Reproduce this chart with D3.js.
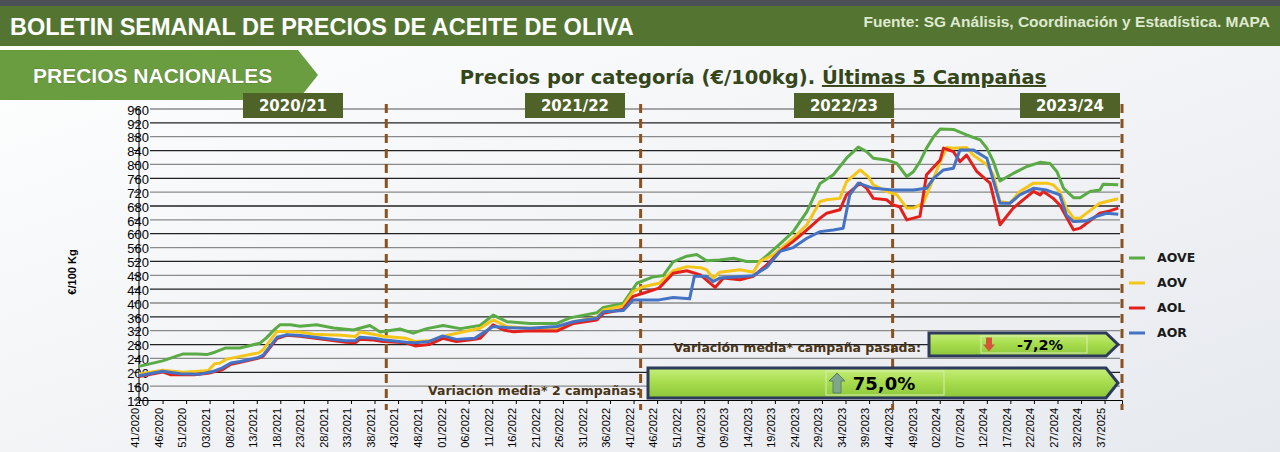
<!DOCTYPE html>
<html><head><meta charset="utf-8">
<script src="https://cdn.jsdelivr.net/npm/d3@7"></script>
<style>body{margin:0;background:#fff;font-family:"Liberation Sans",Arial,sans-serif}</style>
</head><body><svg id="c" width="1280" height="452"></svg>
<script>
const weekLabels=["41/2020","46/2020","51/2020","03/2021","08/2021","13/2021","18/2021","23/2021","28/2021","33/2021","38/2021","43/2021","48/2021","01/2022","06/2022","11/2022","16/2022","21/2022","26/2022","31/2022","36/2022","41/2022","46/2022","51/2022","04/2023","09/2023","14/2023","19/2023","24/2023","29/2023","34/2023","39/2023","44/2023","49/2023","02/2024","07/2024","12/2024","17/2024","22/2024","27/2024","32/2024","37/2025"];
const yTicks=d3.range(120,961,40);
const campaigns=["2020/21","2021/22","2022/23","2023/24"];
const campaignBreaks=[52.5,106.5,160,208.7];
const seriesNames=["AOVE","AOV","AOL","AOR"];
// [week index, €/100kg]
const aove=[[0,217],[5,233],[9.4,253],[12.2,253],[14.4,251],[16.1,258],[18.3,270],[21.4,270],[25.7,284],[27.1,300],[28.5,320],[29.9,337],[32.1,337],[34.2,333],[37.7,337],[41.3,328],[45.5,322],[49,335],[51.2,316],[55.4,325],[58.2,313],[61.1,326],[64.6,335],[68.2,326],[72.4,335],[75.2,365],[78.1,346],[83,341],[88.7,341],[91.5,357],[97.2,372],[98.6,387],[102.8,399],[105.7,457],[109,475],[111.3,479],[113.4,519],[116.3,535],[118.4,540],[120.5,522],[123.3,524],[126.2,529],[129,520],[131.8,520],[133.3,537],[136.1,571],[138.9,606],[141.8,664],[144.6,745],[147.4,770],[150.2,818],[152.7,850],[154.5,837],[155.9,818],[158.7,813],[160.9,803],[163,765],[164.4,779],[165.8,808],[167.2,847],[168.7,880],[170.1,902],[172.9,901],[175.7,885],[178.6,871],[180,847],[181.4,808],[182.8,752],[185.6,774],[188.5,794],[191.3,806],[193.4,803],[194.9,779],[196.3,731],[198.4,704],[199.8,704],[201.9,722],[204,726],[204.7,743],[207.9,741]];
const aov=[[0,195],[5,206],[9.4,200],[12.7,203],[14.7,205],[16.1,225],[17.1,226],[18.6,238],[21.5,246],[25.4,256],[26.4,266],[29.3,318],[31.3,318],[34.2,316],[37.1,310],[43,307],[45.9,303],[46.9,316],[49.8,310],[51.8,304],[56.7,298],[58.6,289],[62.5,292],[65.5,307],[72.4,327],[75.2,351],[78.1,332],[83,327],[88.7,327],[92.2,346],[97.2,358],[98.6,380],[102.8,392],[104.9,433],[107,447],[110.4,457],[113.4,493],[116.3,505],[119.2,502],[120.5,496],[121.9,472],[123.3,489],[127.6,496],[130.4,489],[131.8,520],[134.7,539],[138.9,587],[141.8,626],[144.6,693],[146,698],[148.8,702],[150.2,750],[153.1,784],[154.8,765],[155.9,741],[158.7,722],[160.9,712],[163,674],[164.4,674],[166.5,688],[168.7,760],[170.1,808],[171.5,849],[172.9,847],[175.7,849],[177.1,827],[180,799],[181.4,770],[182.8,693],[184.9,688],[187,722],[189.9,746],[192.7,746],[194.1,741],[195.5,722],[196.9,674],[198.4,645],[199.8,645],[202.6,674],[204,688],[206.1,695],[207.9,701]];
const aol=[[0,188],[5,201],[6.8,193],[11.7,193],[14.7,197],[17.6,207],[19.5,223],[21.5,229],[25.4,241],[26.4,247],[29.3,297],[31.3,307],[34.2,304],[39.1,295],[43.9,287],[45.9,285],[46.9,295],[49.8,293],[51.8,289],[56.7,285],[58.6,276],[61.6,280],[64.5,298],[67.4,289],[71.3,295],[72.4,298],[75.2,337],[77.4,322],[79.5,317],[83,320],[88.7,319],[92.2,341],[97.2,351],[98.6,370],[102.8,382],[104.9,419],[107,428],[110.4,443],[113.4,486],[116.3,493],[119.2,481],[122.3,445],[124.1,472],[127.6,467],[130.4,477],[133.3,510],[136.1,549],[138.9,578],[141.8,611],[144.6,645],[146,659],[148.8,669],[150.2,712],[153.1,746],[154.5,731],[155.9,702],[158.7,698],[160.1,683],[161.5,678],[163,640],[165.8,650],[167.2,770],[170.1,813],[170.8,847],[172.9,837],[174.3,808],[175.7,827],[177.9,779],[180.7,746],[182.8,626],[185.6,674],[189.9,722],[191.3,712],[192,722],[194.1,702],[195.5,683],[198.4,611],[199.8,616],[201.2,630],[204,659],[206.1,666],[207.9,674]];
const aor=[[0,190],[5,203],[8.8,196],[12.7,194],[15.6,202],[17.6,212],[19.5,227],[21.5,231],[25.4,243],[26.4,250],[29.3,301],[31.3,308],[34.2,306],[39.1,298],[43.9,291],[45.9,291],[46.9,301],[49.8,298],[51.8,294],[56.7,287],[58.6,285],[61.6,289],[64.5,305],[67.4,295],[71.3,298],[72.4,308],[75.2,332],[78.1,329],[83,327],[88.7,332],[92.2,346],[97.2,356],[98.6,375],[102.8,378],[104.9,409],[107,409],[110.4,409],[113.4,416],[116.9,412],[117.9,477],[120.5,477],[121.9,462],[123.3,472],[130.4,479],[133.3,503],[136.1,549],[138.9,560],[141.8,587],[144.6,606],[147.4,611],[149.5,616],[150.9,712],[152.7,746],[155.9,731],[160.1,726],[164.4,726],[167.2,731],[168.7,760],[170.8,784],[172.9,789],[174.3,842],[177.1,842],[180,818],[182.8,688],[184.9,688],[187,712],[189.9,731],[192.7,726],[195.5,712],[196.9,654],[198.4,635],[201.2,637],[203.3,650],[205.4,659],[207.9,656]];
const seriesData=[aove,aov,aol,aor];
const colors=["#5aab46","#f5c518","#e3201b","#4472c4"];
const varLast="-7,2%", var2="75,0%";
const DV="DejaVu Sans, Verdana, sans-serif";

const svg=d3.select("#c");
const defs=svg.append("defs");
const bg=defs.append("linearGradient").attr("id","bg").attr("x1",0).attr("x2",1).attr("y1",0).attr("y2",1);
bg.append("stop").attr("offset","0").attr("stop-color","#ffffff");
bg.append("stop").attr("offset","1").attr("stop-color","#e6e9ee");
const gg=defs.append("linearGradient").attr("id","gb").attr("x1",0).attr("x2",0).attr("y1",0).attr("y2",1);
gg.append("stop").attr("offset","0").attr("stop-color","#c6ee7a");
gg.append("stop").attr("offset","0.5").attr("stop-color","#a6dc4c");
gg.append("stop").attr("offset","1").attr("stop-color","#8cc63a");
svg.append("rect").attr("width",1280).attr("height",452).attr("fill","url(#bg)");
// header
svg.append("rect").attr("width",1280).attr("height",6).attr("fill","#4d5157");
svg.append("rect").attr("y",6).attr("width",1280).attr("height",40).attr("fill","#547532");
svg.append("text").attr("x",10).attr("y",35).attr("fill","#fff").attr("font-size",23.5).attr("font-weight","bold").text("BOLETIN SEMANAL DE PRECIOS DE ACEITE DE OLIVA");
svg.append("text").attr("x",1270).attr("y",27).attr("text-anchor","end").attr("fill","#dfe9cf").attr("font-size",15.5).attr("font-weight","bold").text("Fuente: SG Análisis, Coordinación y Estadística. MAPA");
svg.append("path").attr("d","M0,50H298L318,75L298,100H0Z").attr("fill","#6a9c40");
svg.append("text").attr("x",33).attr("y",83).attr("fill","#fff").attr("font-size",21).attr("font-weight","bold").style("paint-order","stroke").attr("stroke","#4a6a2a").attr("stroke-width",0.6).text("PRECIOS NACIONALES");
const t=svg.append("text").attr("x",753).attr("y",84).attr("text-anchor","middle").attr("fill","#34461a").attr("font-size",19.5).attr("font-weight","bold").attr("font-family",DV);
t.append("tspan").text("Precios por categoría (€/100kg). ");
t.append("tspan").attr("text-decoration","underline").text("Últimas 5 Campañas");

const x=d3.scaleLinear().domain([0,208.7]).range([139,1122]);
const y=d3.scaleLinear().domain([120,960]).range([400,109]);
// grid
svg.append("g").selectAll("line").data(yTicks.slice(1)).join("line")
 .attr("x1",150).attr("x2",1120).attr("y1",d=>y(d)).attr("y2",d=>y(d))
 .attr("stroke",(d,i)=>i%2?"#222":"#8a8a8a").attr("stroke-width",1.3);
// axes
const ya=svg.append("g").attr("transform","translate(117,0)").call(d3.axisLeft(y).tickValues(yTicks).tickSize(0).tickPadding(0));
ya.select(".domain").remove();
ya.selectAll("text").attr("font-size",13).attr("fill","#000").attr("x",32).attr("dy","0.4em");
svg.append("line").attr("x1",139).attr("x2",139).attr("y1",108).attr("y2",400).attr("stroke","#000");
svg.append("g").selectAll("line").data(yTicks).join("line").attr("x1",134).attr("x2",139).attr("y1",d=>y(d)).attr("y2",d=>y(d)).attr("stroke","#000");
svg.append("text").attr("transform","translate(76,272) rotate(-90)").attr("text-anchor","middle").attr("font-size",11).attr("font-weight","bold").text("€/100 Kg");
const xa=svg.append("g").attr("transform","translate(0,400)").call(d3.axisBottom(x).tickValues(weekLabels.map((d,i)=>i*5)).tickFormat((d,i)=>weekLabels[i]).tickSize(4));
xa.select(".domain").attr("stroke","#000");
xa.selectAll("text").attr("transform","rotate(-90)").attr("text-anchor","end").attr("x",-8).attr("y",-4).attr("dy","0.35em").attr("font-size",11).attr("fill","#000");
// campaign breaks
svg.append("g").selectAll("line").data(campaignBreaks).join("line")
 .attr("x1",d=>x(d)).attr("x2",d=>x(d)).attr("y1",104).attr("y2",410)
 .attr("stroke","#8a5220").attr("stroke-width",3).attr("stroke-dasharray","9,6");
// campaign labels
const campX=[293,575,844,1070];
campaigns.forEach((c,i)=>{
 svg.append("rect").attr("x",campX[i]-50).attr("y",93).attr("width",100).attr("height",25).attr("fill","#4f6228");
 svg.append("text").attr("x",campX[i]).attr("y",111).attr("text-anchor","middle").attr("fill","#fff").attr("font-size",15).attr("font-weight","bold").attr("font-family",DV).text(c);
});
// lines
const line=d3.line().x(d=>x(d[0])).y(d=>y(d[1]));
seriesData.forEach((s,i)=>{
 svg.append("path").datum(s).attr("d",line).attr("fill","none").attr("stroke",colors[i]).attr("stroke-width",3).attr("stroke-linejoin","round");
});
// legend
seriesNames.forEach((n,i)=>{
 const ly=258+i*25;
 svg.append("line").attr("x1",1129).attr("x2",1145).attr("y1",ly).attr("y2",ly).attr("stroke",colors[i]).attr("stroke-width",3);
 svg.append("text").attr("x",1157).attr("y",ly+4).attr("font-size",12.5).attr("font-weight","bold").attr("fill","#1a1a1a").attr("font-family",DV).text(n);
});
// annotation boxes
function banner(x0,x1,y0,h,bx0,bx1,ax,up){
 svg.append("path").attr("d",`M${x0},${y0}H${x1-12}L${x1},${y0+h/2}L${x1-12},${y0+h}H${x0}Z`).attr("fill","url(#gb)").attr("stroke","#2e3a5c").attr("stroke-width",3);
 svg.append("rect").attr("x",bx0).attr("y",y0+3).attr("width",bx1-bx0).attr("height",h-6).attr("fill","none").attr("stroke","#d8efb0").attr("stroke-width",1);
 const ay=y0+h/2;
 if(up) svg.append("path").attr("d",`M${ax},${ay-10}L${ax+8},${ay-2}H${ax+4}V${ay+10}H${ax-4}V${ay-2}H${ax-8}Z`).attr("fill","#7fa88a").attr("stroke","#5c8066");
 else svg.append("path").attr("d",`M${ax},${ay+7}L${ax+6},${ay}H${ax+3}V${ay-7}H${ax-3}V${ay}H${ax-6}Z`).attr("fill","#d0573a");
}
banner(929,1118,333,23,981,1087,989,false);
svg.append("text").attr("x",1040).attr("y",350).attr("text-anchor","middle").attr("font-size",14.5).attr("font-weight","bold").attr("font-family",DV).text(varLast);
svg.append("text").attr("x",921).attr("y",352).attr("text-anchor","end").attr("font-size",12.5).attr("font-weight","bold").attr("fill","#4a3418").attr("font-family",DV).text("Variación media* campaña pasada:");
banner(648,1118,368,30,826,944,837,true);
svg.append("text").attr("x",884).attr("y",390).attr("text-anchor","middle").attr("font-size",18).attr("font-weight","bold").attr("font-family",DV).text(var2);
svg.append("text").attr("x",641).attr("y",395).attr("text-anchor","end").attr("font-size",12.5).attr("font-weight","bold").attr("fill","#4a3418").attr("font-family",DV).text("Variación media* 2 campañas:");
</script></body></html>
